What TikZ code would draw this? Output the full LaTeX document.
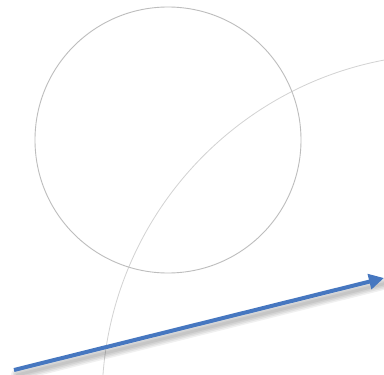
\documentclass[tikz,border=0pt]{standalone}
\usetikzlibrary{arrows.meta}
\definecolor{arrowblue}{HTML}{4677C0}
\definecolor{circgrey}{HTML}{BDBDBD}
\definecolor{arcgrey}{HTML}{D2D2D2}
\tikzset{
  smallcirc/.style={draw=circgrey, line width=0.9pt},
  bigarc/.style={draw=arcgrey, line width=0.8pt},
  bluearrow/.style={draw=arrowblue, line width=4pt, -{Triangle[length=15pt,width=15pt]}},
  shadowline/.style={draw=black, line width=#1, opacity=0.06, line cap=round}
}
\begin{document}
\begin{tikzpicture}[x=1pt,y=-1pt]
\useasboundingbox (0,0) rectangle (384,375);
\clip (0,0) rectangle (384,375);
\fill[white] (0,0) rectangle (384,375);
% big arc
\draw[bigarc] (449,401) circle (347);
% small circle
\draw[smallcirc] (168,140) circle (133);
% arrow ends
\coordinate (s) at (14,370);
\coordinate (e) at (384,278);
% shadow
\foreach \w in {12,9,6,3}{
  \draw[shadowline=\w pt] ([shift={(3,5)}]s) -- ([shift={(3,5)}]e);
}
\draw[bluearrow] (s) -- (e);
\end{tikzpicture}
\end{document}
